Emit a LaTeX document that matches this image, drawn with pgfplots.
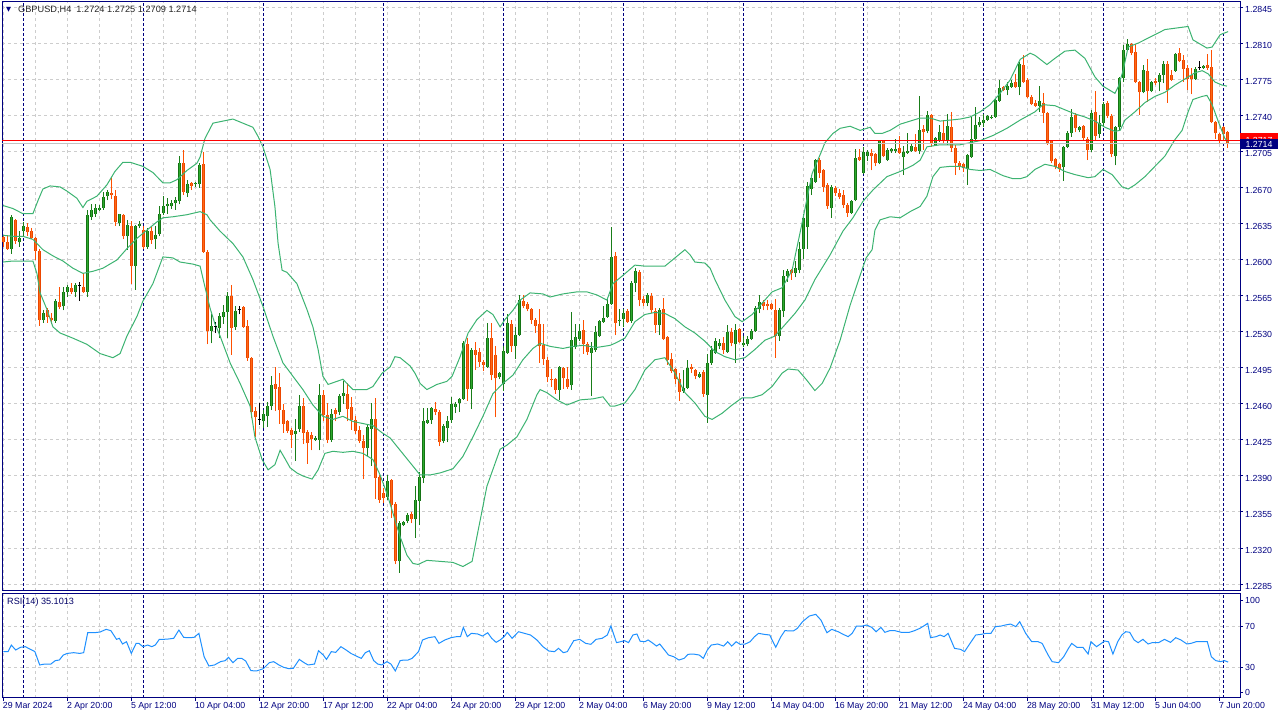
\documentclass[border=0pt]{standalone}
\usepackage{pgfplots}
\pgfplotsset{compat=1.18}
\usepackage{pgfplotstable}
\usepackage{fontspec}
\setmainfont{Liberation Sans}
\newfontfamily\dejavu{DejaVu Sans}
\definecolor{navyc}{RGB}{0,0,128}
\definecolor{gridc}{RGB}{205,205,205}
\definecolor{bullwick}{RGB}{25,125,25}
\definecolor{bulledge}{RGB}{20,115,20}
\definecolor{bullfill}{RGB}{45,170,45}
\definecolor{bearwick}{RGB}{255,80,0}
\definecolor{bearedge}{RGB}{235,70,0}
\definecolor{bearfill}{RGB}{255,105,20}
\definecolor{bandc}{RGB}{60,179,113}
\definecolor{rsic}{RGB}{30,144,255}
\definecolor{bidc}{RGB}{195,195,195}

\pgfplotstableread{
i O H L C
2 1.2611 1.2644 1.2606 1.2642
4 1.2617 1.2628 1.2613 1.2621
5 1.2628 1.2637 1.2623 1.2633
10 1.2542 1.2551 1.2539 1.2548
13 1.2541 1.2562 1.2539 1.2560
15 1.2555 1.2574 1.2551 1.2569
16 1.2569 1.2576 1.2564 1.2574
18 1.2569 1.2578 1.2564 1.2576
21 1.2569 1.2649 1.2564 1.2644
22 1.2642 1.2654 1.2639 1.2649
23 1.2645 1.2654 1.2642 1.2651
24 1.2649 1.2653 1.2648 1.2651
25 1.2651 1.2666 1.2649 1.2661
26 1.2662 1.2668 1.2658 1.2666
29 1.2636 1.2645 1.2633 1.2645
31 1.2623 1.2639 1.2610 1.2634
33 1.2594 1.2634 1.2571 1.2633
34 1.2633 1.2638 1.2631 1.2635
36 1.2613 1.2631 1.2611 1.2628
38 1.2620 1.2633 1.2611 1.2624
39 1.2625 1.2652 1.2623 1.2645
40 1.2646 1.2662 1.2644 1.2652
41 1.2652 1.2660 1.2645 1.2654
42 1.2652 1.2658 1.2650 1.2655
43 1.2655 1.2661 1.2649 1.2658
44 1.2657 1.2701 1.2654 1.2694
46 1.2665 1.2678 1.2661 1.2674
48 1.2674 1.2676 1.2671 1.2675
49 1.2674 1.2694 1.2670 1.2692
52 1.2531 1.2547 1.2519 1.2536
54 1.2534 1.2548 1.2524 1.2546
55 1.2545 1.2556 1.2538 1.2549
56 1.2549 1.2569 1.2524 1.2565
58 1.2535 1.2555 1.2532 1.2550
65 1.2443 1.2454 1.2437 1.2450
66 1.2448 1.2462 1.2438 1.2458
67 1.2458 1.2487 1.2454 1.2478
73 1.2431 1.2445 1.2405 1.2434
74 1.2436 1.2469 1.2433 1.2458
78 1.2425 1.2429 1.2424 1.2427
79 1.2425 1.2479 1.2415 1.2469
82 1.2425 1.2455 1.2423 1.2450
84 1.2452 1.2470 1.2449 1.2468
85 1.2468 1.2482 1.2460 1.2471
91 1.2417 1.2441 1.2409 1.2438
92 1.2436 1.2461 1.2400 1.2445
96 1.2370 1.2391 1.2367 1.2385
99 1.2307 1.2346 1.2296 1.2344
100 1.2342 1.2346 1.2341 1.2345
101 1.2346 1.2354 1.2344 1.2352
103 1.2348 1.2380 1.2330 1.2367
104 1.2366 1.2394 1.2342 1.2389
105 1.2388 1.2456 1.2383 1.2443
106 1.2442 1.2456 1.2441 1.2444
107 1.2444 1.2457 1.2441 1.2456
110 1.2424 1.2441 1.2422 1.2439
111 1.2437 1.2448 1.2423 1.2443
112 1.2444 1.2467 1.2442 1.2460
113 1.2457 1.2462 1.2451 1.2460
114 1.2461 1.2466 1.2452 1.2465
115 1.2465 1.2521 1.2464 1.2519
117 1.2475 1.2514 1.2455 1.2512
121 1.2496 1.2539 1.2495 1.2524
124 1.2486 1.2491 1.2484 1.2490
125 1.2479 1.2516 1.2473 1.2512
126 1.2510 1.2547 1.2509 1.2539
128 1.2516 1.2535 1.2504 1.2527
129 1.2527 1.2566 1.2526 1.2561
139 1.2474 1.2497 1.2464 1.2496
142 1.2478 1.2549 1.2474 1.2522
143 1.2515 1.2538 1.2513 1.2525
144 1.2523 1.2538 1.2521 1.2531
147 1.2510 1.2520 1.2468 1.2514
148 1.2512 1.2536 1.2511 1.2530
149 1.2526 1.2542 1.2525 1.2541
150 1.2540 1.2555 1.2539 1.2544
151 1.2545 1.2562 1.2544 1.2557
152 1.2557 1.2632 1.2556 1.2603
154 1.2541 1.2552 1.2536 1.2542
155 1.2543 1.2552 1.2535 1.2548
157 1.2541 1.2580 1.2539 1.2578
158 1.2578 1.2592 1.2569 1.2589
161 1.2558 1.2568 1.2555 1.2566
164 1.2537 1.2553 1.2527 1.2551
170 1.2473 1.2493 1.2471 1.2476
171 1.2476 1.2503 1.2475 1.2495
174 1.2486 1.2491 1.2485 1.2489
176 1.2469 1.2509 1.2442 1.2500
177 1.2500 1.2516 1.2498 1.2512
178 1.2510 1.2524 1.2509 1.2521
179 1.2516 1.2523 1.2513 1.2519
181 1.2511 1.2537 1.2510 1.2530
183 1.2518 1.2538 1.2500 1.2532
185 1.2517 1.2526 1.2515 1.2519
186 1.2518 1.2526 1.2516 1.2523
187 1.2523 1.2533 1.2522 1.2531
188 1.2531 1.2555 1.2530 1.2553
189 1.2552 1.2566 1.2548 1.2559
194 1.2526 1.2553 1.2521 1.2551
195 1.2550 1.2590 1.2545 1.2584
196 1.2584 1.2591 1.2579 1.2589
198 1.2587 1.2599 1.2583 1.2592
199 1.2590 1.2617 1.2587 1.2611
200 1.2611 1.2645 1.2601 1.2641
201 1.2632 1.2676 1.2611 1.2672
202 1.2669 1.2683 1.2663 1.2680
203 1.2676 1.2698 1.2675 1.2697
207 1.2651 1.2673 1.2641 1.2671
212 1.2646 1.2658 1.2645 1.2657
213 1.2658 1.2708 1.2657 1.2699
215 1.2685 1.2710 1.2684 1.2705
216 1.2701 1.2707 1.2696 1.2705
219 1.2694 1.2717 1.2693 1.2716
221 1.2697 1.2709 1.2696 1.2707
222 1.2706 1.2709 1.2704 1.2708
223 1.2706 1.2718 1.2704 1.2708
225 1.2700 1.2711 1.2683 1.2705
226 1.2704 1.2723 1.2703 1.2706
227 1.2706 1.2713 1.2705 1.2711
229 1.2706 1.2759 1.2703 1.2726
231 1.2725 1.2745 1.2723 1.2741
233 1.2712 1.2720 1.2711 1.2719
234 1.2717 1.2731 1.2715 1.2724
236 1.2717 1.2742 1.2712 1.2730
241 1.2688 1.2703 1.2673 1.2702
242 1.2700 1.2739 1.2699 1.2718
243 1.2718 1.2749 1.2717 1.2731
244 1.2731 1.2739 1.2729 1.2734
245 1.2733 1.2742 1.2729 1.2736
246 1.2736 1.2741 1.2735 1.2740
247 1.2738 1.2741 1.2737 1.2739
248 1.2739 1.2757 1.2738 1.2756
249 1.2755 1.2775 1.2754 1.2767
251 1.2765 1.2773 1.2760 1.2769
252 1.2768 1.2775 1.2767 1.2772
254 1.2768 1.2792 1.2760 1.2791
259 1.2750 1.2769 1.2744 1.2755
265 1.2690 1.2711 1.2677 1.2710
266 1.2710 1.2725 1.2709 1.2723
267 1.2723 1.2747 1.2720 1.2739
269 1.2726 1.2730 1.2724 1.2729
272 1.2707 1.2746 1.2705 1.2743
274 1.2722 1.2741 1.2719 1.2733
275 1.2733 1.2754 1.2730 1.2752
278 1.2701 1.2730 1.2692 1.2729
279 1.2729 1.2778 1.2726 1.2777
280 1.2777 1.2809 1.2773 1.2804
281 1.2804 1.2815 1.2803 1.2810
285 1.2763 1.2790 1.2762 1.2785
287 1.2764 1.2774 1.2763 1.2773
289 1.2773 1.2782 1.2764 1.2780
290 1.2780 1.2793 1.2772 1.2791
293 1.2784 1.2801 1.2783 1.2800
298 1.2776 1.2788 1.2775 1.2786
300 1.2787 1.2790 1.2786 1.2789
}\bull

\pgfplotstableread{
i O H L C
0 1.2622 1.2624 1.2613 1.2617
1 1.2617 1.2624 1.2610 1.2611
3 1.2639 1.2640 1.2616 1.2618
6 1.2632 1.2636 1.2623 1.2627
7 1.2628 1.2631 1.2620 1.2621
8 1.2621 1.2622 1.2600 1.2609
9 1.2609 1.2611 1.2536 1.2542
11 1.2551 1.2553 1.2539 1.2545
12 1.2544 1.2548 1.2538 1.2542
14 1.2559 1.2574 1.2552 1.2554
17 1.2573 1.2578 1.2567 1.2569
20 1.2574 1.2587 1.2568 1.2569
27 1.2665 1.2680 1.2659 1.2663
28 1.2662 1.2668 1.2633 1.2637
30 1.2644 1.2645 1.2620 1.2623
32 1.2633 1.2638 1.2577 1.2594
35 1.2629 1.2633 1.2611 1.2613
37 1.2628 1.2633 1.2616 1.2619
45 1.2694 1.2707 1.2663 1.2666
47 1.2675 1.2676 1.2668 1.2672
50 1.2693 1.2705 1.2607 1.2608
51 1.2608 1.2610 1.2518 1.2531
57 1.2565 1.2576 1.2508 1.2534
60 1.2554 1.2555 1.2534 1.2535
61 1.2536 1.2542 1.2502 1.2505
62 1.2505 1.2506 1.2446 1.2452
63 1.2453 1.2457 1.2428 1.2447
68 1.2479 1.2496 1.2453 1.2475
69 1.2477 1.2490 1.2441 1.2454
70 1.2454 1.2460 1.2432 1.2441
71 1.2443 1.2444 1.2432 1.2434
72 1.2435 1.2437 1.2417 1.2430
75 1.2458 1.2466 1.2421 1.2432
76 1.2433 1.2435 1.2402 1.2422
77 1.2430 1.2433 1.2415 1.2426
80 1.2469 1.2474 1.2443 1.2449
81 1.2449 1.2461 1.2422 1.2425
83 1.2454 1.2456 1.2443 1.2450
86 1.2470 1.2480 1.2443 1.2455
87 1.2457 1.2467 1.2435 1.2444
88 1.2444 1.2448 1.2431 1.2434
89 1.2435 1.2439 1.2422 1.2424
90 1.2424 1.2430 1.2387 1.2417
93 1.2445 1.2466 1.2368 1.2388
94 1.2389 1.2391 1.2364 1.2367
95 1.2373 1.2378 1.2364 1.2369
97 1.2386 1.2387 1.2349 1.2362
98 1.2363 1.2365 1.2304 1.2307
102 1.2353 1.2355 1.2344 1.2348
108 1.2455 1.2462 1.2449 1.2452
109 1.2452 1.2454 1.2419 1.2423
116 1.2518 1.2524 1.2463 1.2475
118 1.2512 1.2520 1.2493 1.2508
119 1.2511 1.2514 1.2496 1.2501
120 1.2501 1.2503 1.2492 1.2498
122 1.2524 1.2539 1.2483 1.2488
123 1.2508 1.2516 1.2447 1.2485
127 1.2538 1.2542 1.2511 1.2516
130 1.2560 1.2566 1.2553 1.2555
131 1.2557 1.2559 1.2550 1.2552
132 1.2552 1.2553 1.2538 1.2542
133 1.2542 1.2544 1.2529 1.2536
134 1.2538 1.2552 1.2500 1.2516
135 1.2517 1.2538 1.2498 1.2504
136 1.2503 1.2506 1.2481 1.2486
137 1.2484 1.2494 1.2477 1.2483
138 1.2484 1.2485 1.2470 1.2474
140 1.2495 1.2496 1.2475 1.2485
141 1.2484 1.2496 1.2475 1.2477
145 1.2532 1.2542 1.2509 1.2518
146 1.2518 1.2520 1.2508 1.2511
153 1.2604 1.2608 1.2527 1.2539
156 1.2550 1.2552 1.2539 1.2540
159 1.2588 1.2590 1.2555 1.2561
160 1.2562 1.2565 1.2555 1.2558
162 1.2565 1.2568 1.2548 1.2551
163 1.2550 1.2553 1.2529 1.2537
165 1.2552 1.2563 1.2522 1.2523
166 1.2525 1.2526 1.2498 1.2503
167 1.2504 1.2510 1.2490 1.2492
168 1.2494 1.2495 1.2479 1.2484
169 1.2484 1.2490 1.2463 1.2472
172 1.2496 1.2499 1.2490 1.2494
173 1.2493 1.2494 1.2484 1.2487
175 1.2491 1.2493 1.2467 1.2470
180 1.2519 1.2525 1.2509 1.2512
182 1.2530 1.2534 1.2516 1.2519
184 1.2533 1.2534 1.2519 1.2520
190 1.2559 1.2561 1.2551 1.2555
191 1.2557 1.2561 1.2551 1.2555
192 1.2557 1.2558 1.2551 1.2552
193 1.2551 1.2562 1.2505 1.2526
197 1.2590 1.2591 1.2581 1.2587
204 1.2697 1.2699 1.2680 1.2685
205 1.2687 1.2688 1.2666 1.2671
206 1.2673 1.2675 1.2650 1.2652
208 1.2670 1.2672 1.2662 1.2665
209 1.2665 1.2669 1.2659 1.2661
210 1.2663 1.2668 1.2651 1.2653
211 1.2653 1.2655 1.2642 1.2646
214 1.2700 1.2708 1.2696 1.2697
217 1.2704 1.2708 1.2687 1.2701
218 1.2703 1.2704 1.2691 1.2694
220 1.2716 1.2717 1.2700 1.2701
224 1.2709 1.2721 1.2703 1.2704
228 1.2710 1.2722 1.2705 1.2706
230 1.2727 1.2731 1.2707 1.2724
232 1.2741 1.2742 1.2710 1.2713
235 1.2723 1.2736 1.2714 1.2717
237 1.2729 1.2744 1.2705 1.2709
238 1.2709 1.2712 1.2683 1.2694
239 1.2694 1.2696 1.2687 1.2691
240 1.2693 1.2694 1.2686 1.2689
250 1.2768 1.2769 1.2764 1.2765
253 1.2773 1.2781 1.2767 1.2768
255 1.2790 1.2799 1.2772 1.2773
256 1.2775 1.2777 1.2757 1.2758
257 1.2758 1.2760 1.2751 1.2752
258 1.2753 1.2756 1.2749 1.2750
260 1.2753 1.2762 1.2733 1.2743
261 1.2743 1.2744 1.2712 1.2714
262 1.2716 1.2717 1.2694 1.2696
263 1.2698 1.2699 1.2688 1.2690
264 1.2693 1.2694 1.2686 1.2688
268 1.2741 1.2743 1.2724 1.2728
270 1.2730 1.2731 1.2717 1.2719
271 1.2718 1.2720 1.2697 1.2707
273 1.2744 1.2764 1.2716 1.2721
276 1.2753 1.2755 1.2738 1.2740
277 1.2740 1.2742 1.2700 1.2703
282 1.2810 1.2811 1.2799 1.2801
283 1.2802 1.2810 1.2772 1.2773
284 1.2773 1.2774 1.2741 1.2763
286 1.2784 1.2795 1.2754 1.2764
288 1.2774 1.2777 1.2770 1.2772
291 1.2791 1.2793 1.2753 1.2765
292 1.2780 1.2785 1.2774 1.2775
294 1.2801 1.2806 1.2792 1.2793
295 1.2794 1.2799 1.2773 1.2786
296 1.2787 1.2790 1.2765 1.2776
297 1.2780 1.2787 1.2761 1.2776
301 1.2790 1.2800 1.2785 1.2787
302 1.2788 1.2804 1.2733 1.2734
303 1.2734 1.2735 1.2718 1.2723
304 1.2722 1.2723 1.2713 1.2717
305 1.2729 1.2730 1.2716 1.2722
306 1.2724 1.2725 1.2709 1.2714
}\bear

\pgfplotstableread{
i O H L C
19 1.2575 1.2579 1.2560 1.2575
53 1.2535 1.2540 1.2529 1.2535
59 1.2552 1.2555 1.2547 1.2552
64 1.2445 1.2461 1.2440 1.2445
299 1.2787 1.2793 1.2785 1.2787
}\doji

\pgfplotsset{
  mtframe/.style={
    scale only axis, width=1238bp,
    xmin=-0.325, xmax=309.175,
    axis line style={draw=navyc, line width=1bp},
    grid style={draw=gridc, line width=1bp, dash pattern=on 3bp off 3bp},
    tick align=outside, major tick length=3bp, minor tick length=0pt,
    tick style={draw=navyc, line width=1bp},
    ticklabel style={font=\fontsize{8.8bp}{10bp}\selectfont, text=navyc},
    extra x ticks={5,35,...,305},
    extra x tick labels={},
    extra x tick style={grid=major, major tick length=0pt,
      major grid style={draw=navyc, line width=1bp, dash pattern=on 3bp off 2bp}},
  },
  wicks/.style 2 args={draw=none, mark=none, forget plot,
    error bars/.cd, y dir=plus, y explicit, error mark=none,
    error bar style={draw=#1, line width=#2, solid, line cap=butt}},
}

\begin{document}
\begin{tikzpicture}
\useasboundingbox (0,0) rectangle (1280bp,720bp);

% ---------------- main price panel ----------------
\begin{axis}[mtframe,
  at={(2bp,129bp)}, anchor=south west, height=589bp,
  ymin=1.22782, ymax=1.28508,
  xtick={0,8,...,304}, xticklabels={}, xmajorgrids, xtick style={draw=none},
  ytick={1.2285,1.2320,1.2355,1.2390,1.2425,1.2460,1.2495,1.2530,1.2565,1.2600,1.2635,1.2670,1.2705,1.2740,1.2775,1.2810,1.2845},
  yticklabels={1.2285,1.2320,1.2355,1.2390,1.2425,1.2460,1.2495,1.2530,1.2565,1.2600,1.2635,1.2670,1.2705,1.2740,1.2775,1.2810,1.2845},
  ytick pos=right, ymajorgrids,
  yticklabel style={anchor=west, inner sep=0pt, xshift=2bp, yshift=-2bp},
]
% wicks
\addplot[wicks={bullwick}{1bp}] table[x=i, y=L, y error plus expr=\thisrow{H}-\thisrow{L}] {\bull};
\addplot[wicks={bearwick}{1bp}] table[x=i, y=L, y error plus expr=\thisrow{H}-\thisrow{L}] {\bear};
\addplot[wicks={black}{1bp}] table[x=i, y=L, y error plus expr=\thisrow{H}-\thisrow{L}] {\doji};
% bodies
\addplot[wicks={bulledge}{3.3bp}] table[x=i, y=O, y error plus expr=\thisrow{C}-\thisrow{O}] {\bull};
\addplot[wicks={bullfill}{1.4bp}] table[x=i, y=O, y error plus expr=\thisrow{C}-\thisrow{O}] {\bull};
\addplot[wicks={bearedge}{3.3bp}] table[x=i, y=C, y error plus expr=\thisrow{O}-\thisrow{C}] {\bear};
\addplot[wicks={bearfill}{1.4bp}] table[x=i, y=C, y error plus expr=\thisrow{O}-\thisrow{C}] {\bear};
\addplot[only marks, mark=-, mark size=1.7bp, mark options={draw=black, line width=1bp}, forget plot] table[x=i, y=C] {\doji};

% Bollinger bands (20,2)
\addplot[bandc, line width=1bp, mark=none] coordinates {
(-0.1,1.2653) (2.4,1.2650) (4.9,1.2645) (7.4,1.2645) (8.7,1.2658) (9.9,1.2669) (11.7,1.2672) (14.2,1.2671) (15.9,1.2667) (18.4,1.2660) (19.9,1.2651) (20.9,1.2657) (23.4,1.2662) (25.9,1.2673) (27.9,1.2686) (29.9,1.2695) (31.7,1.2695) (34.9,1.2691) (37.4,1.2685) (39.9,1.2675) (41.7,1.2675) (43.4,1.2678) (45.9,1.2687) (48.4,1.2694) (49.2,1.2700) (50.4,1.2718) (52.4,1.2733) (54.9,1.2735) (57.4,1.2737) (59.9,1.2733) (62.4,1.2729) (63.7,1.2720) (64.9,1.2710) (66.7,1.2688) (67.9,1.2652) (68.7,1.2616) (69.7,1.2590) (70.9,1.2588) (73.4,1.2577) (75.9,1.2552) (77.4,1.2535) (78.7,1.2513) (79.9,1.2487) (81.2,1.2479) (83.4,1.2482) (84.9,1.2484) (87.4,1.2474) (90.9,1.2474) (92.4,1.2477) (94.7,1.2490) (96.7,1.2496) (97.9,1.2506) (99.2,1.2505) (101.7,1.2497) (102.9,1.2490) (104.2,1.2480) (105.9,1.2474) (108.4,1.2479) (110.9,1.2482) (112.2,1.2487) (114.2,1.2506) (116.2,1.2529) (118.4,1.2542) (120.9,1.2551) (122.4,1.2547) (124.2,1.2535) (125.4,1.2542) (127.4,1.2551) (129.2,1.2561) (131.7,1.2568) (134.9,1.2567) (136.7,1.2564) (139.9,1.2567) (143.4,1.2569) (145.9,1.2569) (148.4,1.2566) (150.9,1.2561) (152.4,1.2577) (154.9,1.2585) (157.9,1.2595) (160.4,1.2594) (165.4,1.2594) (167.9,1.2602) (170.4,1.2610) (171.7,1.2605) (172.9,1.2598) (175.4,1.2597) (176.7,1.2592) (177.9,1.2581) (180.4,1.2561) (182.9,1.2545) (184.7,1.2540) (187.2,1.2547) (189.7,1.2558) (192.2,1.2569) (194.7,1.2573) (197.2,1.2590) (199.7,1.2636) (202.2,1.2684) (204.7,1.2707) (205.4,1.2714) (207.4,1.2723) (209.2,1.2728) (211.7,1.2730) (214.2,1.2726) (216.7,1.2729) (217.9,1.2723) (219.7,1.2723) (221.7,1.2726) (224.2,1.2732) (226.7,1.2735) (229.2,1.2738) (231.7,1.2738) (234.2,1.2735) (236.7,1.2736) (239.2,1.2737) (241.7,1.2739) (244.2,1.2744) (246.7,1.2751) (249.2,1.2762) (251.7,1.2775) (254.2,1.2795) (256.7,1.2801) (257.9,1.2799) (260.9,1.2790) (262.9,1.2796) (265.4,1.2803) (267.9,1.2804) (270.4,1.2796) (272.9,1.2778) (274.9,1.2769) (277.9,1.2762) (278.8,1.2769) (280.0,1.2785) (281.2,1.2807) (283.8,1.2811) (287.9,1.2819) (290.4,1.2824) (296.2,1.2827) (297.4,1.2814) (300.9,1.2806) (302.2,1.2807) (304.2,1.2819) (306.2,1.2822)
};
\addplot[bandc, line width=1bp, mark=none] coordinates {
(-0.1,1.2624) (2.4,1.2623) (4.9,1.2623) (7.4,1.2620) (9.9,1.2610) (12.4,1.2604) (14.9,1.2599) (17.4,1.2592) (19.9,1.2587) (22.4,1.2589) (24.9,1.2592) (28.4,1.2600) (30.9,1.2611) (33.4,1.2621) (35.9,1.2629) (38.4,1.2637) (39.9,1.2641) (42.4,1.2642) (45.9,1.2644) (49.2,1.2647) (50.9,1.2644) (51.7,1.2639) (54.2,1.2628) (57.4,1.2616) (59.9,1.2603) (62.4,1.2581) (64.9,1.2555) (67.4,1.2526) (69.9,1.2500) (72.4,1.2487) (74.9,1.2474) (77.4,1.2459) (79.9,1.2448) (82.4,1.2445) (84.9,1.2448) (87.4,1.2443) (89.9,1.2441) (92.4,1.2439) (94.7,1.2432) (96.7,1.2427) (99.2,1.2415) (101.7,1.2403) (104.2,1.2391) (106.7,1.2391) (109.2,1.2393) (112.4,1.2397) (114.9,1.2409) (117.4,1.2428) (119.9,1.2448) (122.4,1.2470) (124.9,1.2480) (127.4,1.2488) (129.9,1.2503) (132.4,1.2514) (134.2,1.2519) (136.7,1.2516) (139.9,1.2514) (142.4,1.2516) (144.9,1.2517) (148.4,1.2515) (151.7,1.2517) (152.9,1.2519) (155.4,1.2524) (157.9,1.2540) (160.4,1.2547) (162.9,1.2549) (165.4,1.2548) (167.9,1.2543) (170.4,1.2535) (172.9,1.2529) (175.4,1.2521) (177.9,1.2511) (180.4,1.2506) (182.9,1.2503) (185.4,1.2505) (187.9,1.2513) (190.4,1.2522) (192.9,1.2526) (195.4,1.2537) (197.9,1.2548) (200.4,1.2561) (202.9,1.2581) (206.7,1.2605) (209.9,1.2628) (212.4,1.2641) (214.9,1.2657) (217.4,1.2668) (220.9,1.2681) (224.2,1.2686) (227.4,1.2692) (229.2,1.2697) (230.9,1.2710) (234.2,1.2712) (239.2,1.2712) (244.2,1.2716) (247.4,1.2721) (250.9,1.2728) (254.2,1.2736) (257.9,1.2744) (259.9,1.2751) (262.9,1.2750) (265.4,1.2746) (267.9,1.2742) (270.4,1.2739) (272.9,1.2735) (275.4,1.2729) (277.9,1.2725) (279.2,1.2726) (280.4,1.2736) (282.9,1.2744) (285.4,1.2753) (287.9,1.2759) (290.4,1.2763) (292.9,1.2770) (295.4,1.2776) (297.9,1.2782) (299.7,1.2784) (301.2,1.2781) (302.9,1.2773) (304.7,1.2770) (305.9,1.2769)
};
\addplot[bandc, line width=1bp, mark=none] coordinates {
(-0.1,1.2598) (2.4,1.2599) (4.9,1.2599) (7.4,1.2599) (8.4,1.2587) (9.2,1.2568) (10.9,1.2552) (12.4,1.2535) (14.2,1.2529) (17.4,1.2524) (20.9,1.2518) (24.2,1.2509) (27.4,1.2505) (29.2,1.2509) (30.9,1.2526) (33.4,1.2545) (34.9,1.2560) (37.4,1.2577) (39.9,1.2603) (42.4,1.2602) (44.2,1.2598) (47.4,1.2596) (49.2,1.2594) (50.4,1.2574) (51.7,1.2553) (52.9,1.2538) (54.2,1.2526) (56.7,1.2500) (59.2,1.2480) (61.7,1.2458) (62.9,1.2428) (64.7,1.2406) (66.2,1.2396) (67.9,1.2401) (69.2,1.2415) (70.4,1.2407) (71.7,1.2398) (73.4,1.2393) (74.9,1.2390) (77.2,1.2387) (78.7,1.2396) (80.4,1.2412) (82.4,1.2414) (84.9,1.2413) (87.4,1.2414) (89.9,1.2412) (92.4,1.2406) (94.2,1.2391) (95.9,1.2373) (97.4,1.2354) (99.2,1.2331) (100.9,1.2313) (102.4,1.2305) (103.7,1.2304) (105.9,1.2308) (109.2,1.2307) (112.4,1.2306) (114.9,1.2302) (117.2,1.2307) (118.4,1.2331) (120.9,1.2380) (124.2,1.2416) (125.9,1.2420) (128.4,1.2428) (130.9,1.2445) (133.4,1.2469) (134.2,1.2474) (135.9,1.2471) (138.4,1.2464) (140.9,1.2459) (144.2,1.2464) (147.4,1.2465) (149.9,1.2467) (151.7,1.2458) (152.9,1.2458) (155.4,1.2461) (157.9,1.2474) (160.4,1.2493) (162.9,1.2503) (165.4,1.2505) (167.9,1.2490) (170.4,1.2471) (172.9,1.2461) (175.4,1.2448) (177.2,1.2445) (179.7,1.2451) (182.2,1.2459) (184.7,1.2466) (187.2,1.2466) (189.7,1.2469) (192.2,1.2477) (194.7,1.2490) (196.2,1.2494) (198.7,1.2493) (200.9,1.2483) (202.9,1.2473) (204.7,1.2480) (206.7,1.2495) (209.2,1.2522) (211.7,1.2556) (214.2,1.2585) (215.7,1.2602) (217.2,1.2610) (217.9,1.2629) (219.2,1.2639) (221.7,1.2642) (224.2,1.2641) (226.7,1.2647) (229.2,1.2652) (230.9,1.2662) (232.4,1.2681) (234.2,1.2690) (236.7,1.2691) (239.2,1.2691) (241.7,1.2688) (244.2,1.2687) (246.7,1.2688) (249.9,1.2682) (252.4,1.2679) (254.2,1.2679) (255.9,1.2681) (257.9,1.2688) (260.4,1.2693) (262.9,1.2691) (265.4,1.2686) (267.9,1.2683) (271.2,1.2680) (272.9,1.2681) (274.9,1.2688) (277.2,1.2683) (279.7,1.2671) (281.2,1.2669) (282.9,1.2673) (285.4,1.2681) (287.9,1.2691) (290.4,1.2701) (292.9,1.2717) (294.7,1.2726) (296.2,1.2744) (297.4,1.2756) (299.7,1.2759) (300.9,1.2760) (302.2,1.2751) (303.7,1.2735) (305.4,1.2718) (306.2,1.2715)
};
% bid and ask lines
\addplot[bidc, line width=1bp, mark=none] coordinates {(-0.325,1.27135) (309.175,1.27135)};
\addplot[red, line width=1bp, mark=none] coordinates {(-0.325,1.27165) (309.175,1.27165)};
\end{axis}

% ---------------- RSI panel ----------------
\begin{axis}[mtframe,
  at={(2bp,22.3bp)}, anchor=south west, height=104.2bp,
  ymin=0.6, ymax=101.5,
  xtick={0,16,...,304},
  xticklabels={29 Mar 2024,2 Apr 20:00,5 Apr 12:00,10 Apr 04:00,12 Apr 20:00,17 Apr 12:00,22 Apr 04:00,24 Apr 20:00,29 Apr 12:00,2 May 04:00,6 May 20:00,9 May 12:00,14 May 04:00,16 May 20:00,21 May 12:00,24 May 04:00,28 May 20:00,31 May 12:00,5 Jun 04:00,7 Jun 20:00},
  xtick pos=bottom, xmajorgrids,
  minor xtick={8,24,...,296}, xminorgrids,
  minor grid style={draw=gridc, line width=1bp, dash pattern=on 3bp off 3bp},
  xticklabel style={anchor=north west, inner sep=0pt, yshift=-1bp, xshift=-0.5bp},
  ytick={30,70}, yticklabels={30,70}, ymajorgrids, ytick pos=right,
  extra y ticks={5.4,94.5}, extra y tick labels={0,100},
  extra y tick style={grid=none},
  yticklabel style={anchor=west, inner sep=0pt, xshift=2bp},
]
\addplot[rsic, line width=1bp, mark=none] coordinates {
(0,45.2) (1.2,45.2) (2.0,51.6) (3.1,46.8) (4.3,49.4) (5.5,50.0) (6.8,47.4) (7.9,45.2) (9.1,32.3) (10.4,33.2) (11.9,33.2) (13.0,36.5) (14.0,37.1) (15.0,41.9) (16.0,43.5) (17.6,44.2) (19.1,43.5) (20.1,44.2) (21.1,63.5) (22.7,63.5) (24.2,64.2) (25.7,66.8) (26.9,65.5) (28.3,57.1) (29.0,58.1) (29.8,52.6) (30.8,54.8) (32.0,43.5) (33.2,53.2) (33.9,53.2) (34.9,50.0) (36.1,51.6) (37.1,50.0) (38.0,51.6) (39.0,57.1) (40.0,57.1) (41.2,57.4) (42.6,58.1) (43.9,66.1) (45.1,59.0) (46.3,58.7) (47.7,59.0) (48.9,62.9) (50.2,40.3) (51.4,31.3) (52.8,32.3) (54.3,35.5) (55.5,36.5) (56.3,39.7) (57.4,34.5) (58.6,38.7) (59.6,38.7) (60.6,36.1) (61.9,26.8) (63.3,26.5) (65.0,28.7) (66.5,34.5) (67.6,35.5) (68.9,32.3) (70.1,30.0) (71.4,28.7) (72.5,29.0) (74.0,37.7) (75.2,34.5) (76.2,32.3) (77.8,33.2) (78.8,46.1) (80.0,41.9) (80.8,37.7) (82.0,45.2) (83.1,44.5) (84.4,50.0) (85.7,46.8) (86.9,43.5) (88.2,41.0) (89.5,38.7) (90.5,44.2) (91.5,46.1) (92.6,36.5) (93.6,33.2) (94.6,32.3) (95.9,35.5) (96.9,33.2) (98.0,26.5) (99.2,36.5) (100.2,37.1) (101.2,37.1) (102.2,38.7) (103.8,45.2) (104.8,56.5) (106.3,58.7) (107.9,59.7) (108.9,53.2) (110.4,56.5) (111.9,58.7) (113.3,59.7) (114.3,59.7) (115.0,68.7) (116.0,59.7) (117.0,62.9) (118.6,62.3) (119.8,60.3) (121.1,63.5) (122.1,58.1) (123.2,54.2) (124.2,56.5) (125.2,59.7) (126.0,63.9) (127.2,58.1) (128.8,64.5) (130.3,62.9) (131.8,61.3) (133.4,56.5) (134.9,50.0) (136.4,45.8) (137.8,45.2) (138.8,48.4) (140.0,44.2) (141.0,45.2) (142.6,55.8) (144.1,57.1) (145.6,53.2) (146.9,52.3) (148.2,57.1) (149.7,58.1) (151.0,61.3) (151.9,70.0) (153.3,53.9) (154.3,54.8) (155.3,55.8) (156.3,53.9) (157.4,61.3) (158.4,62.3) (159.2,55.3) (160.4,54.8) (161.2,56.5) (162.2,53.9) (163.3,50.6) (164.1,52.6) (165.3,46.8) (166.3,41.9) (167.6,40.3) (168.9,37.1) (170.2,38.7) (171.2,42.6) (172.5,42.9) (174.0,41.9) (175.0,38.7) (176.0,46.8) (177.0,51.6) (178.6,52.6) (180.1,50.6) (181.1,54.8) (182.1,50.6) (183.2,54.8) (184.2,52.3) (185.5,52.6) (186.7,54.8) (187.8,59.7) (188.8,62.9) (190.3,61.9) (191.6,61.3) (193.1,49.4) (194.4,59.7) (195.4,65.5) (197.5,65.2) (198.5,67.7) (199.8,74.2) (201.5,79.7) (203.1,81.3) (204.4,75.8) (205.9,63.5) (207.1,66.8) (208.7,64.5) (210.0,61.9) (211.2,59.7) (212.2,62.9) (213.3,70.0) (214.8,70.0) (215.8,71.0) (217.1,68.7) (218.2,64.5) (219.4,68.7) (220.4,63.9) (221.6,65.5) (222.9,65.5) (224.5,63.9) (226.5,63.9) (227.8,65.5) (229.1,67.7) (230.1,70.0) (231.1,72.6) (231.8,58.7) (233.2,59.7) (234.2,61.3) (235.2,59.7) (236.2,62.9) (237.8,48.4) (239.3,47.4) (240.3,45.2) (241.8,53.9) (243.1,61.3) (244.4,61.9) (245.7,62.9) (246.9,62.9) (248.0,69.4) (249.5,70.0) (250.5,71.0) (251.8,71.9) (253.1,69.4) (254.1,74.2) (255.6,62.9) (257.1,54.8) (258.7,54.8) (259.7,53.2) (261.2,41.9) (262.2,35.5) (263.8,34.5) (265.1,40.3) (266.3,48.4) (267.1,53.2) (268.4,49.4) (269.9,49.4) (271.2,42.9) (271.9,54.8) (273.3,50.0) (274.5,53.2) (275.3,55.5) (276.3,54.8) (277.4,42.9) (278.6,54.8) (279.6,61.3) (280.6,64.5) (281.6,63.9) (282.7,56.5) (283.7,53.9) (284.9,57.1) (286.2,52.6) (287.2,53.9) (288.8,53.9) (290.3,57.1) (291.8,54.2) (293.1,58.7) (294.4,56.5) (295.9,52.6) (296.9,53.2) (298.2,54.8) (300.0,54.8) (301.0,54.8) (302.0,40.3) (303.1,36.5) (304.3,35.5) (305.3,36.5) (306.2,35.1)
};
\end{axis}

% ---------------- texts and price tags ----------------
\node[anchor=center, inner sep=0pt, text=navyc] at (8.5bp,710bp) {\dejavu\fontsize{6.5bp}{7bp}\selectfont ▼};
\node[anchor=west, inner sep=0pt, text=black!85] at (18bp,710bp) {\fontsize{9.2bp}{11bp}\selectfont GBPUSD,H4\ \ 1.2724 1.2725 1.2709 1.2714};
\node[anchor=west, inner sep=0pt, text=navyc!80!black] at (7bp,117.5bp) {\fontsize{9.1bp}{11bp}\selectfont RSI(14) 35.1013};
\fill[red] (1240bp,573.5bp) rectangle (1278bp,586.5bp);
\node[text=white, inner sep=0pt] at (1259bp,580bp) {\fontsize{8.8bp}{10bp}\selectfont 1.2717};
\fill[navyc] (1240bp,570.5bp) rectangle (1278bp,580.5bp);
\node[text=white, inner sep=0pt] at (1259bp,575.5bp) {\fontsize{8.8bp}{10bp}\selectfont 1.2714};
\end{tikzpicture}
\end{document}
